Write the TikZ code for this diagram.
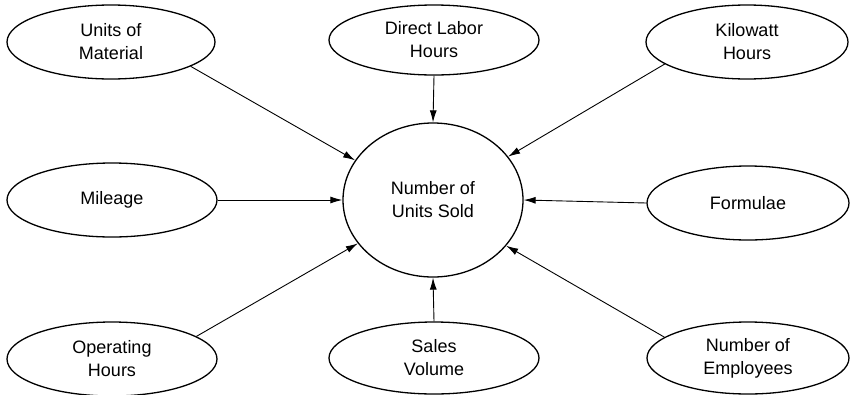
\documentclass[tikz,border=0pt]{standalone}
\usepackage{fontspec}
\setmainfont{Liberation Sans}
\usetikzlibrary{shapes.geometric,arrows.meta}
\begin{document}
\begin{tikzpicture}[x=1pt,y=-1pt,
  oval/.style={draw,ellipse,line width=1.3pt,inner sep=0pt,align=center,
    font=\fontsize{18}{23}\selectfont},
  conn/.style={line width=0.9pt,-{Latex[length=12pt,width=7pt]}}]
\useasboundingbox (0,0) rectangle (851,394);
\node[oval,minimum width=180,minimum height=154] (c) at (433,200) {Number of\\Units Sold};
\node[oval,minimum width=208,minimum height=74] (uom) at (111,42) {Units of\\Material};
\node[oval,minimum width=210,minimum height=70] (dlh) at (434,40) {Direct Labor\\Hours};
\node[oval,minimum width=202,minimum height=74] (kwh) at (747,42) {Kilowatt\\Hours};
\node[oval,minimum width=210,minimum height=74] (mil) at (112,200) {Mileage};
\node[oval,minimum width=202,minimum height=74] (for) at (748,203) {Formulae};
\node[oval,minimum width=210,minimum height=74] (oph) at (112,359) {Operating\\Hours};
\node[oval,minimum width=210,minimum height=72] (sv) at (434,358) {Sales\\Volume};
\node[oval,minimum width=202,minimum height=72] (emp) at (748,358) {Number of\\Employees};
\draw[conn] (uom.-17) -- (c.153);
\draw[conn] (dlh.south) -- (c.north);
\draw[conn] (kwh.195) -- (c.30);
\draw[conn] (mil.east) -- (c.west);
\draw[conn] (for.west) -- (c.east);
\draw[conn] (oph.15) -- (c.210);
\draw[conn] (sv.north) -- (c.south);
\draw[conn] (emp.166) -- (c.-32);
\end{tikzpicture}
\end{document}
